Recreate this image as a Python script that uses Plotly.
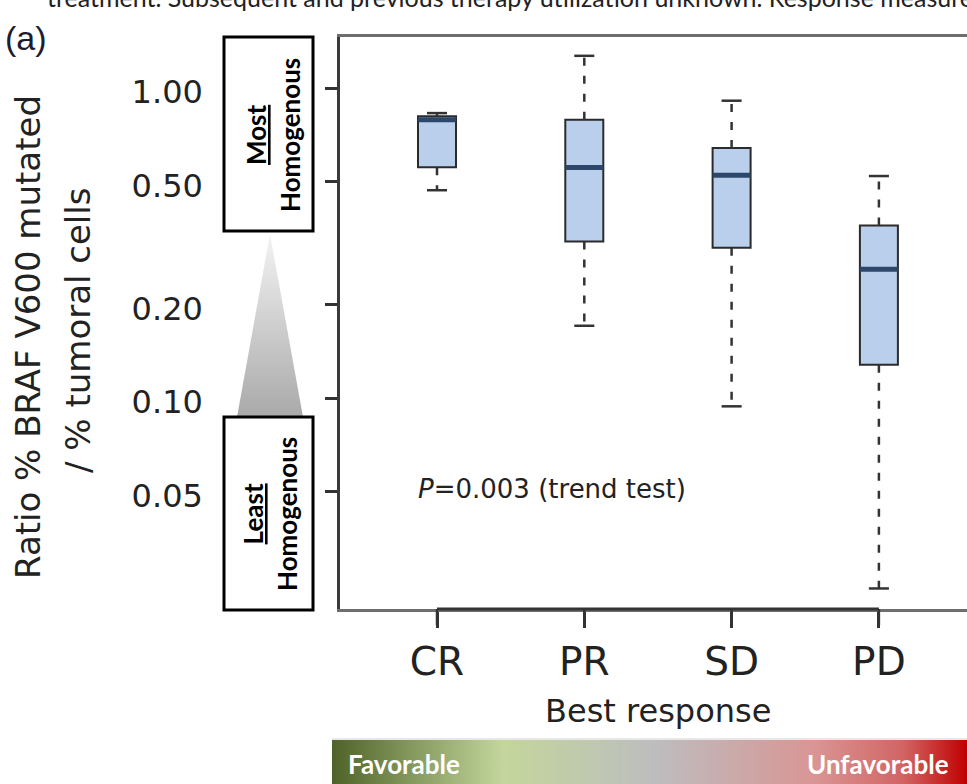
import numpy as np
import plotly.graph_objects as go

# ---------------- data ----------------
categories = ["CR", "PR", "SD", "PD"]
whisker_high = [0.83, 1.27, 0.91, 0.52]
quartile3 = [0.81, 0.79, 0.64, 0.36]
medians = [0.79, 0.554, 0.523, 0.26]
quartile1 = [0.555, 0.32, 0.305, 0.128]
whisker_low = [0.468, 0.171, 0.094, 0.0243]
ytick_vals = [0.05, 0.10, 0.20, 0.50, 1.00]
ytick_text = ["0.05", "0.10", "0.20", "0.50", "1.00"]

W, H = 967, 784
PLOT_LEFT, PLOT_RIGHT = 340, 967
PLOT_TOP, PLOT_BOTTOM = 37, 609


def px(x):
    return x / W


def py(y):
    return 1 - y / H


R_FONT = "DejaVu Sans"
C_FONT = "Lato"

fig = go.Figure()

xs = list(range(len(categories)))
BOXW = 0.258
CAPW = 0.068

x_left = -(437 - PLOT_LEFT) / 147.3
x_right = (PLOT_RIGHT - 437) / 147.3
y_top = (88 - PLOT_TOP) / 310
y_bot = (88 - PLOT_BOTTOM) / 310

# boxes
for i in xs:
    fig.add_trace(go.Box(
        x=[i], q1=[quartile1[i]], median=[medians[i]], q3=[quartile3[i]],
        lowerfence=[quartile1[i]], upperfence=[quartile3[i]],
        width=BOXW, fillcolor="#b9cfec",
        line=dict(color="#2b2b2b", width=2),
        boxpoints=False, showlegend=False, hoverinfo="skip"))

# dashed whiskers
wx, wy = [], []
for i in xs:
    wx += [i, i, None, i, i, None]
    wy += [quartile3[i], whisker_high[i], None, quartile1[i], whisker_low[i], None]
fig.add_trace(go.Scatter(x=wx, y=wy, mode="lines", showlegend=False, hoverinfo="skip",
                         line=dict(color="#333333", width=2.5, dash="8px,10px")))

# whisker caps
cx, cy = [], []
for i in xs:
    cx += [i - CAPW, i + CAPW, None, i - CAPW, i + CAPW, None]
    cy += [whisker_high[i], whisker_high[i], None, whisker_low[i], whisker_low[i], None]
fig.add_trace(go.Scatter(x=cx, y=cy, mode="lines", showlegend=False, hoverinfo="skip",
                         line=dict(color="#333333", width=2.5)))

# medians
mx, my = [], []
for i in xs:
    mx += [i - BOXW / 2, i + BOXW / 2, None]
    my += [medians[i], medians[i], None]
fig.add_trace(go.Scatter(x=mx, y=my, mode="lines", showlegend=False, hoverinfo="skip",
                         line=dict(color="#2c4769", width=5)))

# ---------------- decorations on a full-figure pixel overlay ----------------
fig.add_trace(go.Scatter(
    x=[270, 237, 303, 270], y=[234, 417, 417, 234], xaxis="x2", yaxis="y2",
    mode="lines", line=dict(width=0), fill="toself", showlegend=False, hoverinfo="skip",
    fillgradient=dict(type="vertical", colorscale=[[0, "#a9a9a9"], [1, "#f4f4f4"]])))

fig.add_trace(go.Scatter(
    x=[332, 967, 967, 332, 332], y=[740, 740, 784, 784, 740], xaxis="x2", yaxis="y2",
    mode="lines", line=dict(width=0), fill="toself", showlegend=False, hoverinfo="skip",
    fillgradient=dict(type="horizontal", colorscale=[
        [0, "#4f6228"], [0.27, "#c3d69b"], [0.51, "#bdbdbf"], [0.76, "#d99594"],
        [0.9, "#d26464"], [1, "#c00000"]])))

# category tick marks below the x axis (mapped from the category positions)
tx, ty = [], []
for i in xs:
    xp = PLOT_LEFT + (i - x_left) / (x_right - x_left) * (PLOT_RIGHT - PLOT_LEFT)
    tx += [xp, xp, None]
    ty += [PLOT_BOTTOM, PLOT_BOTTOM + 16, None]
fig.add_trace(go.Scatter(x=tx, y=ty, xaxis="x2", yaxis="y2", mode="lines",
                         line=dict(color="#333333", width=2.5),
                         showlegend=False, hoverinfo="skip"))

shapes = [
    dict(type="rect", xref="x2", yref="y2", x0=224, x1=313, y0=37, y1=231,
         line=dict(color="black", width=3), fillcolor="white"),
    dict(type="rect", xref="x2", yref="y2", x0=224, x1=313, y0=417, y1=610,
         line=dict(color="black", width=3), fillcolor="white"),
    dict(type="line", xref="x2", yref="y2", x0=332, x1=967, y0=739, y1=739,
         line=dict(color="#d0d0d0", width=1)),
    # darker axis segment between first and last category (R style axis over box frame)
    dict(type="line", xref="x", yref="y domain", x0=xs[0], x1=xs[-1], y0=0, y1=0,
         line=dict(color="#333333", width=3)),
]

annotations = [
    dict(x=px(45), y=py(-3), xref="paper", yref="paper", xanchor="left", yanchor="middle",
         text="treatment. Subsequent and previous therapy utilization unknown. Response measure",
         showarrow=False, font=dict(family=C_FONT, size=25, color="#222222")),
    dict(x=px(26), y=py(38), xref="paper", yref="paper", xanchor="center", yanchor="middle",
         text="(a)", showarrow=False,
         font=dict(family="Liberation Sans Narrow, Liberation Sans", size=34, color="#1c1c30")),
    dict(x=px(273), y=py(135), xref="paper", yref="paper", xanchor="center", yanchor="middle",
         text="<b><u>Most</u></b><br><b>Homogenous</b>", textangle=-90, showarrow=False,
         font=dict(family=C_FONT, size=26, color="black")),
    dict(x=px(270), y=py(514), xref="paper", yref="paper", xanchor="center", yanchor="middle",
         text="<b><u>Least</u></b><br><b>Homogenous</b>", textangle=-90, showarrow=False,
         font=dict(family=C_FONT, size=26, color="black")),
    dict(x=px(28), y=py(337), xref="paper", yref="paper", xanchor="center", yanchor="middle",
         text="Ratio % BRAF V600 mutated", textangle=-90, showarrow=False,
         font=dict(family=R_FONT, size=34, color="#222222")),
    dict(x=px(78), y=py(331), xref="paper", yref="paper", xanchor="center", yanchor="middle",
         text="/ % tumoral cells", textangle=-90, showarrow=False,
         font=dict(family=R_FONT, size=34, color="#222222")),
    dict(x=px(552), y=py(489), xref="paper", yref="paper", xanchor="center", yanchor="middle",
         text="<i>P</i>=0.003 (trend test)", showarrow=False,
         font=dict(family=R_FONT, size=26, color="#222222")),
    dict(x=px(658), y=py(711), xref="paper", yref="paper", xanchor="center", yanchor="middle",
         text="Best response", showarrow=False,
         font=dict(family=R_FONT, size=32, color="#222222")),
    dict(x=px(346), y=py(764), xref="paper", yref="paper", xanchor="left", yanchor="middle",
         text="<b>Favorable</b>", showarrow=False,
         font=dict(family=C_FONT, size=26, color="white")),
    dict(x=px(951), y=py(764), xref="paper", yref="paper", xanchor="right", yanchor="middle",
         text="<b>Unfavorable</b>", showarrow=False,
         font=dict(family=C_FONT, size=26, color="white")),
]

fig.update_layout(
    width=W, height=H,
    margin=dict(l=0, r=0, t=0, b=0),
    paper_bgcolor="white", plot_bgcolor="rgba(0,0,0,0)",
    showlegend=False,
    xaxis=dict(domain=[PLOT_LEFT / W, PLOT_RIGHT / W], range=[x_left, x_right],
               tickvals=xs, ticktext=categories,
               ticks="outside", ticklen=16, tickwidth=2.5, tickcolor="#333333",
               showline=True, mirror=True, linecolor="#6e6e6e", linewidth=2.5,
               showgrid=False, zeroline=False, automargin=False,
               tickfont=dict(family=R_FONT, size=39, color="#222222")),
    yaxis=dict(domain=[(H - PLOT_BOTTOM) / H, (H - PLOT_TOP) / H], type="log", range=[y_bot, y_top],
               tickvals=ytick_vals, ticktext=ytick_text,
               ticks="outside", ticklen=12, tickwidth=2.5, tickcolor="#333333",
               showline=True, mirror=False, linecolor="#3a3a3a", linewidth=2.5,
               showgrid=False, zeroline=False, automargin=False,
               ticklabelstandoff=116, ticklabelshift=4,
               tickfont=dict(family=R_FONT, size=32, color="#222222")),
    xaxis2=dict(domain=[0, 1], range=[0, W], visible=False, anchor="y2", fixedrange=True),
    yaxis2=dict(domain=[0, 1], range=[H, 0], visible=False, anchor="x2", fixedrange=True),
    shapes=shapes,
    annotations=annotations,
)

fig.write_html("out.html", config={"displayModeBar": False},
               post_script="document.body.style.margin='0px';document.body.style.overflow='hidden';")
